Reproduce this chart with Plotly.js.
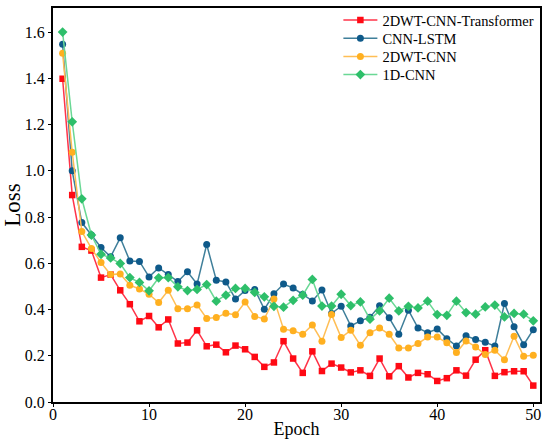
<!DOCTYPE html>
<html>
<head>
<meta charset="utf-8">
<script src="https://cdn.plot.ly/plotly-3.0.1.min.js"></script>
<style>html,body{margin:0;padding:0;background:#fff;}#chart{width:550px;height:442px;}</style>
</head>
<body>
<div id="chart"></div>
<script>
const epochs = Array.from({length: 50}, (_, i) => i + 1);

const transformerLoss = [1.398,0.895,0.671,0.655,0.538,0.551,0.483,0.423,0.349,0.372,
  0.323,0.357,0.253,0.257,0.310,0.241,0.248,0.215,0.244,0.228,
  0.195,0.152,0.171,0.263,0.188,0.126,0.219,0.134,0.166,0.149,
  0.128,0.137,0.113,0.188,0.111,0.155,0.106,0.126,0.120,0.091,
  0.103,0.137,0.114,0.183,0.224,0.113,0.129,0.133,0.133,0.071];

const cnnLstmLoss = [1.547,1.000,0.776,0.722,0.668,0.628,0.710,0.610,0.608,0.541,
  0.580,0.551,0.521,0.563,0.510,0.681,0.527,0.519,0.445,0.482,
  0.487,0.401,0.468,0.510,0.493,0.466,0.437,0.484,0.383,0.414,
  0.329,0.351,0.367,0.416,0.364,0.293,0.397,0.320,0.300,0.316,
  0.274,0.242,0.286,0.270,0.258,0.242,0.426,0.325,0.248,0.313];

const dwtCnnLoss = [1.508,1.080,0.737,0.664,0.603,0.551,0.554,0.505,0.489,0.466,
  0.430,0.483,0.403,0.403,0.420,0.361,0.365,0.384,0.377,0.432,
  0.370,0.359,0.445,0.315,0.308,0.293,0.333,0.263,0.378,0.279,
  0.310,0.245,0.300,0.320,0.293,0.234,0.234,0.253,0.281,0.281,
  0.256,0.214,0.264,0.238,0.205,0.224,0.183,0.284,0.198,0.202];

const cnn1dLoss = [1.600,1.212,0.879,0.722,0.639,0.623,0.599,0.538,0.517,0.481,
  0.537,0.538,0.498,0.482,0.487,0.508,0.436,0.462,0.491,0.491,
  0.474,0.455,0.414,0.410,0.440,0.462,0.530,0.415,0.415,0.466,
  0.417,0.433,0.358,0.394,0.449,0.394,0.414,0.407,0.436,0.378,
  0.375,0.436,0.387,0.380,0.411,0.419,0.368,0.383,0.380,0.351];

const seriesNames = ['2DWT-CNN-Transformer', 'CNN-LSTM', '2DWT-CNN', '1D-CNN'];
const yTicks = [0.0, 0.2, 0.4, 0.6, 0.8, 1.0, 1.2, 1.4, 1.6];
const xTicks = [0, 10, 20, 30, 40, 50];

function trace(name, y, lineColor, markerColor, symbol, size, legendId) {
  return {
    x: epochs, y: y, name: name, type: 'scatter', mode: 'lines+markers',
    legend: legendId,
    line: {color: lineColor, width: 1.5},
    marker: {color: markerColor, symbol: symbol, size: size, line: {width: 0}}
  };
}

const data = [
  trace(seriesNames[0], transformerLoss, '#ff3348', '#ff0a14', 'square', 6.5, 'legend'),
  trace(seriesNames[1], cnnLstmLoss, '#3f7f9a', '#0f5a8a', 'circle', 7, 'legend2'),
  trace(seriesNames[2], dwtCnnLoss, '#ffbe55', '#ffb020', 'circle', 7, 'legend3'),
  trace(seriesNames[3], cnn1dLoss, '#6ad895', '#2ebf6a', 'diamond', 7.5, 'legend4')
];

const font = '"Liberation Serif", "Times New Roman", serif';
function legendAt(y) {
  return {x: 0.586, y: y, xanchor: 'left', yanchor: 'middle', itemwidth: 34,
    font: {family: font, size: 14.5, color: '#000'},
    bgcolor: 'rgba(0,0,0,0)', borderwidth: 0};
}

const layout = {
  width: 550, height: 442,
  margin: {l: 53, r: 10, t: 8, b: 40, autoexpand: false},
  paper_bgcolor: '#fff', plot_bgcolor: '#fff',
  font: {family: font, color: '#000', size: 16},
  showlegend: true,
  legend: legendAt(0.9695),
  legend2: legendAt(0.923),
  legend3: legendAt(0.877),
  legend4: legendAt(0.831),
  xaxis: {
    range: [0, 50.7], tickvals: xTicks, ticktext: xTicks.map(String),
    showgrid: false, zeroline: false,
    showline: true, linecolor: '#000', linewidth: 2, mirror: true,
    ticks: 'outside', ticklen: 3, tickwidth: 1, tickcolor: '#000',
    ticklabelstandoff: -6,
    tickfont: {family: font, size: 16},
    title: {text: 'Epoch', font: {family: font, size: 18}, standoff: 0}
  },
  yaxis: {
    range: [0, 1.704], tickvals: yTicks, ticktext: yTicks.map(v => v.toFixed(1)),
    showgrid: false, zeroline: false,
    showline: true, linecolor: '#000', linewidth: 2, mirror: true,
    ticks: 'outside', ticklen: 3, tickwidth: 1, tickcolor: '#000',
    tickfont: {family: font, size: 16},
    title: {text: 'Loss', font: {family: font, size: 23}, standoff: 1}
  }
};

Plotly.newPlot('chart', data, layout, {displayModeBar: false, staticPlot: true});
</script>
</body>
</html>
